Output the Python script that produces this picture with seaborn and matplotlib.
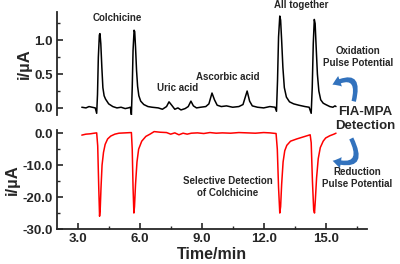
import numpy as np
import pandas as pd
import matplotlib
matplotlib.use('Agg')
import matplotlib.pyplot as plt
from matplotlib.patches import FancyArrowPatch
from matplotlib.ticker import MultipleLocator, FormatStrFormatter
import seaborn as sns

sns.set_style('ticks')
plt.rcParams['font.family'] = ['Liberation Sans', 'DejaVu Sans']
plt.rcParams['axes.unicode_minus'] = False

# --- Data: oxidation pulse trace (black) ---
ox_time = [3.2, 3.4, 3.55, 3.7, 3.85, 3.92, 3.96, 4.0, 4.05, 4.08, 4.12, 4.17, 4.22, 4.28, 4.35,
           4.5, 4.7, 4.9, 5.1, 5.3, 5.45, 5.55, 5.6, 5.64, 5.68, 5.73, 5.76, 5.8, 5.85, 5.9,
           5.96, 6.05, 6.2, 6.4, 6.6, 6.9, 7.1, 7.3, 7.42, 7.55, 7.7, 7.85, 8.0, 8.2, 8.35,
           8.48, 8.6, 8.75, 8.95, 9.2, 9.35, 9.5, 9.62, 9.75, 9.95, 10.2, 10.5, 10.8, 11.0,
           11.2, 11.32, 11.45, 11.7, 12.0, 12.3, 12.55, 12.62, 12.67, 12.72, 12.78, 12.82,
           12.87, 12.93, 13.0, 13.1, 13.25, 13.45, 13.7, 14.0, 14.2, 14.3, 14.35, 14.4, 14.45,
           14.49, 14.54, 14.6, 14.67, 14.76, 14.88, 15.0, 15.2, 15.35, 15.45, 15.5]
ox_current = [0.01, 0.0, 0.02, 0.01, 0.0, -0.08, 0.2, 0.75, 1.08, 1.10, 0.95, 0.6, 0.3, 0.18, 0.13,
              0.06, 0.02, 0.0, 0.01, -0.01, 0.0, 0.01, -0.1, 0.3, 0.85, 1.15, 1.13, 0.9, 0.55, 0.32,
              0.18, 0.1, 0.05, 0.02, 0.01, 0.0, -0.02, 0.02, 0.09, 0.04, -0.02, 0.0, -0.03, -0.01, 0.02,
              0.10, 0.03, 0.0, 0.01, 0.02, 0.06, 0.22, 0.12, 0.04, 0.02, 0.03, 0.01, 0.02, 0.05,
              0.25, 0.1, 0.03, 0.01, 0.0, 0.02, 0.01, -0.05, 0.4, 1.05, 1.36, 1.3,
              1.0, 0.6, 0.3, 0.16, 0.09, 0.06, 0.04, 0.02, 0.01, -0.08, 0.3, 0.95, 1.31,
              1.25, 0.9, 0.5, 0.25, 0.12, 0.07, 0.05, 0.02, 0.01, 0.03, 0.02]

# --- Data: reduction pulse trace (red) ---
red_time = [3.2, 3.4, 3.6, 3.8, 3.92, 3.97, 4.02, 4.06, 4.09, 4.13, 4.18, 4.25, 4.33, 4.45, 4.6,
            4.8, 5.0, 5.3, 5.6, 5.64, 5.68, 5.72, 5.75, 5.8, 5.87, 5.95, 6.1, 6.3, 6.5, 6.7, 7.0,
            7.3, 7.5, 7.7, 7.9, 8.1, 8.3, 8.5, 8.8, 9.1, 9.4, 9.7, 10.0, 10.4, 10.8, 11.2, 11.6,
            12.0, 12.3, 12.6, 12.66, 12.72, 12.78, 12.82, 12.87, 12.94, 13.02, 13.12, 13.3, 13.6,
            13.9, 14.1, 14.25, 14.3, 14.36, 14.42, 14.46, 14.5, 14.56, 14.64, 14.74, 14.88,
            15.0, 15.2, 15.4, 15.5]
red_current = [-0.6, -0.3, -0.2, 0.0, 0.1, -4, -17, -26, -24, -17, -10, -6, -3.5, -1.8, -0.9,
               -0.3, 0.0, 0.1, 0.2, -5, -17, -25, -23, -16, -9, -5, -2.5, -1, -0.3, 0.5, 0.3,
               0.2, -0.3, 0.1, -0.5, 0.0, -0.3, 0.0, 0.1, -0.1, 0.2, 0.0, 0.1, 0.0, 0.2, 0.1, 0.0,
               0.2, 0.1, -0.1, -5, -17, -25, -23, -16, -9, -5.5, -3.8, -2.5, -1.8,
               -1.2, -0.8, -0.5, -3, -15, -24, -25, -21, -14, -8, -4.5, -2.5,
               -1.5, -0.8, -0.3, 0.0]

ox_df = pd.DataFrame({'time': ox_time, 'current': ox_current})
red_df = pd.DataFrame({'time': red_time, 'current': red_current})

W, H = 400, 264
fig = plt.figure(figsize=(4.0, 2.64), dpi=100)

def px_axes(left, top, right, bottom):
    return fig.add_axes([left / W, 1 - bottom / H, (right - left) / W, (bottom - top) / H])

ax_top = px_axes(57, 12, 367, 115)
ax_bot = px_axes(57, 130, 367, 229)

sns.lineplot(data=ox_df, x='time', y='current', ax=ax_top, color='black', lw=1.1, sort=False)
sns.lineplot(data=red_df, x='time', y='current', ax=ax_bot, color='red', lw=1.1, sort=False)

for ax in (ax_top, ax_bot):
    ax.set_xlim(2.0, 17.0)
    ax.spines['right'].set_visible(False)
    ax.spines['top'].set_visible(False)
    for s in ax.spines.values():
        s.set_linewidth(1.3)
    ax.tick_params(direction='in', which='major', length=4, width=1.2, pad=3)
    ax.tick_params(direction='in', which='minor', length=2.5, width=1.0)
    ax.set_ylabel('i/\u00b5A', fontsize=12, fontweight='bold', labelpad=2)

ax_top.set_ylim(-0.105, 1.42)
ax_top.spines['bottom'].set_visible(False)
ax_top.set_xticks([])
ax_top.set_xlabel('')
ax_top.yaxis.set_major_locator(MultipleLocator(0.5))
ax_top.yaxis.set_minor_locator(MultipleLocator(0.25))
ax_top.yaxis.set_major_formatter(FormatStrFormatter('%.1f'))

ax_bot.set_ylim(-30, 1.0)
ax_bot.yaxis.set_major_locator(MultipleLocator(10))
ax_bot.yaxis.set_minor_locator(MultipleLocator(5))
ax_bot.yaxis.set_major_formatter(FormatStrFormatter('%.1f'))
ax_bot.set_xticks([3, 6, 9, 12, 15])
ax_bot.xaxis.set_minor_locator(MultipleLocator(1.5))
ax_bot.xaxis.set_major_formatter(FormatStrFormatter('%.1f'))
ax_bot.set_xlabel('Time/min', fontsize=11.5, fontweight='bold', labelpad=1)

for ax in (ax_top, ax_bot):
    for lab in ax.get_xticklabels() + ax.get_yticklabels():
        lab.set_fontweight('bold')
        lab.set_fontsize(9.5)

# --- annotations (pixel positions) ---
def ftext(x, y, s, size=7, **kw):
    fig.text(x / W, 1 - y / H, s, fontsize=size, fontweight='bold', ha='center', va='center',
             linespacing=1.15, **kw)

ftext(117, 18, 'Colchicine')
ftext(178, 88, 'Uric acid')
ftext(228, 77, 'Ascorbic acid')
ftext(301, 5, 'All together')
ftext(358, 57, 'Oxidation\nPulse Potential')
ftext(365, 119, 'FIA-MPA\nDetection', size=9.5)
ftext(357, 178, 'Reduction\nPulse Potential')
ftext(228, 187, 'Selective Detection\nof Colchicine')

blue = '#3272bd'
style = 'simple,head_width=8,head_length=6,tail_width=3.2'
arr1 = FancyArrowPatch((353 / W, 1 - 104 / H), (330 / W, 1 - 86 / H), transform=fig.transFigure,
                       connectionstyle='arc3,rad=1.2', arrowstyle=style, color=blue, lw=0)
arr2 = FancyArrowPatch((350 / W, 1 - 136 / H), (330 / W, 1 - 160 / H), transform=fig.transFigure,
                       connectionstyle='arc3,rad=-1.2', arrowstyle=style, color=blue, lw=0)
fig.add_artist(arr1)
fig.add_artist(arr2)

fig.savefig('out.png', dpi=100)
